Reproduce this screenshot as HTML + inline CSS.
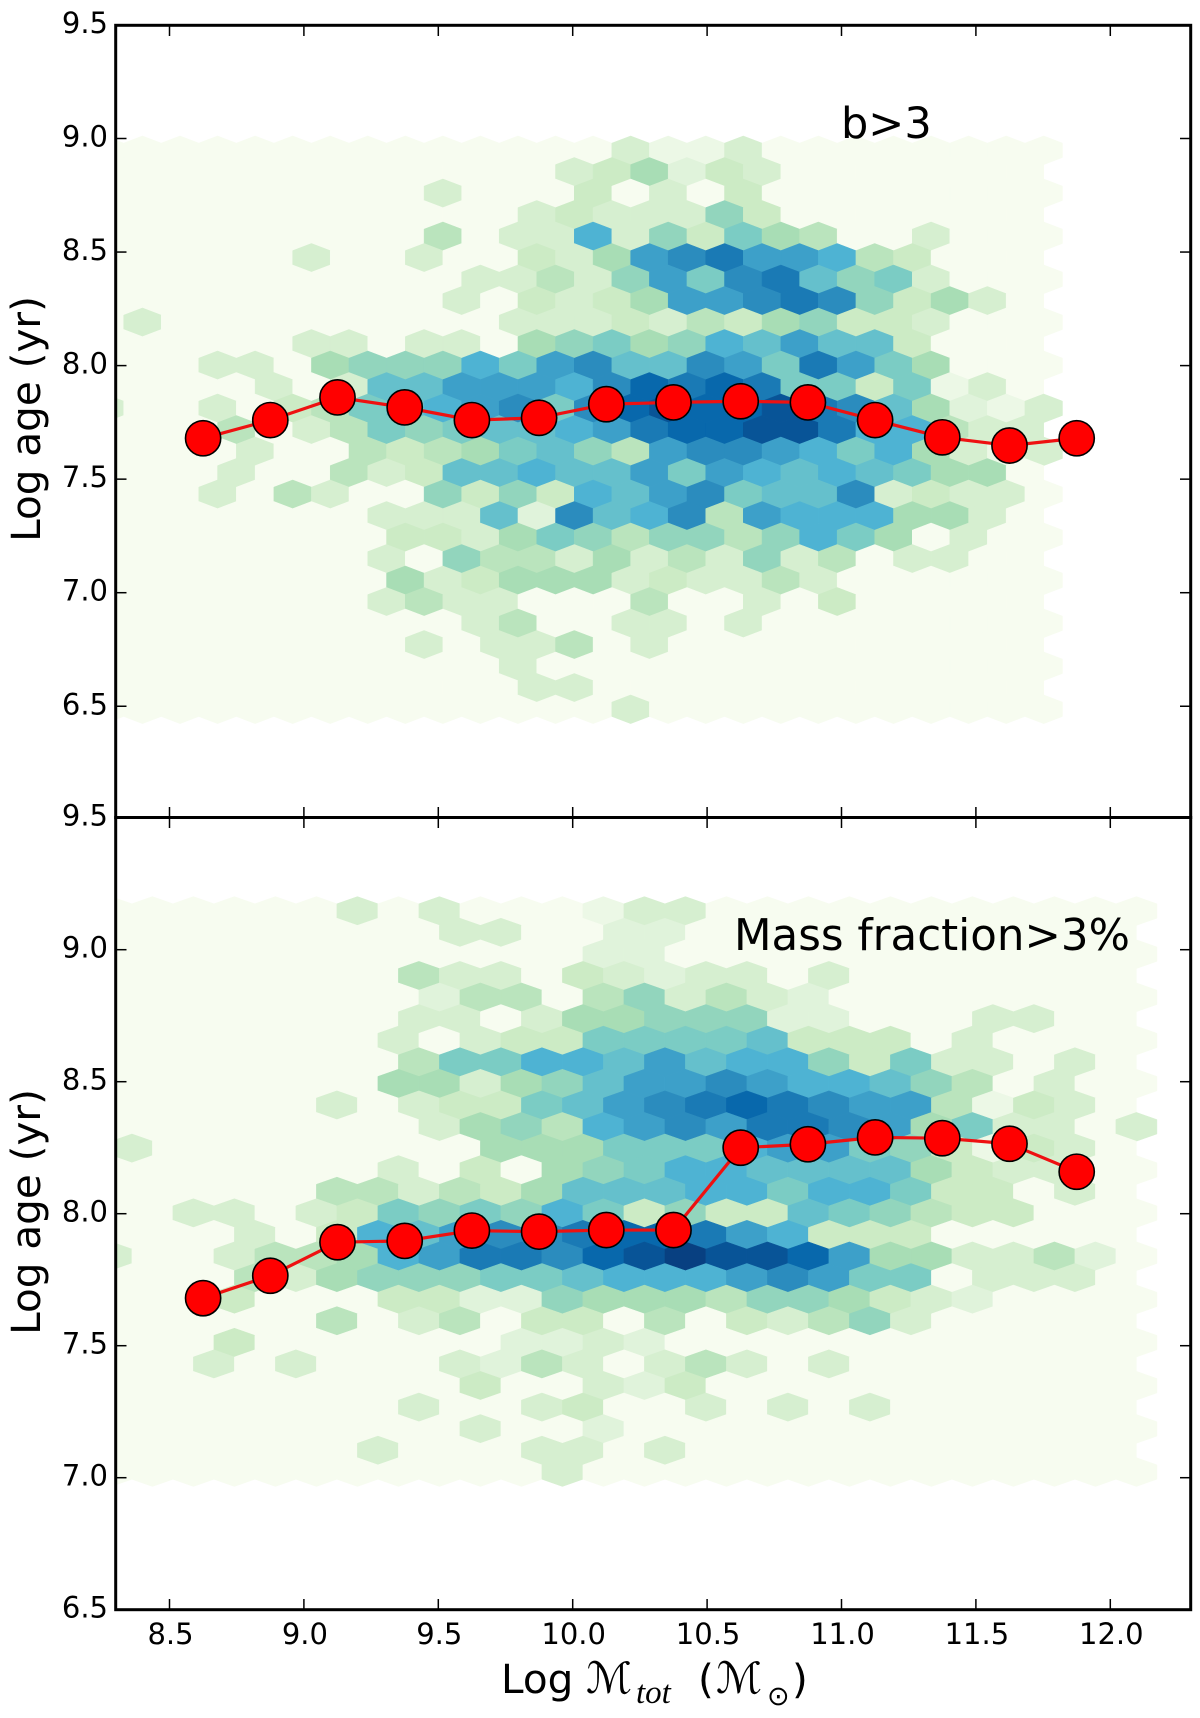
<!DOCTYPE html>
<html lang="en">
<head>
<meta charset="utf-8">
<title>Log age vs Log total mass hexbin panels</title>
<style>
html,body{margin:0;padding:0;background:#fff;}
svg{display:block;}
text{font-family:"DejaVu Sans","Liberation Sans",sans-serif;fill:#000;}
</style>
</head>
<body>
<svg id="chart" xmlns="http://www.w3.org/2000/svg" width="1200" height="1718" viewBox="0 0 1200 1718">
  <defs>
    <clipPath id="clip-top"><rect x="115.7" y="25.3" width="1075" height="792.2"/></clipPath>
    <clipPath id="clip-bottom"><rect x="115.7" y="817.5" width="1075" height="792.2"/></clipPath>
  </defs>
  <g id="top-hexes" clip-path="url(#clip-top)"></g>
  <g id="bottom-hexes" clip-path="url(#clip-bottom)"></g>
  <g id="top-series"></g>
  <g id="bottom-series"></g>
  <g id="ticks"></g>
  <g id="tick-labels"></g>
  <rect x="115.7" y="25.3" width="1075" height="792.2" fill="none" stroke="#000" stroke-width="3"/>
  <rect x="115.7" y="817.5" width="1075" height="792.2" fill="none" stroke="#000" stroke-width="3"/>
  <text transform="translate(40,419) rotate(-90)" text-anchor="middle" font-size="40.5">Log age (yr)</text>
  <text transform="translate(40,1212) rotate(-90)" text-anchor="middle" font-size="40.5">Log age (yr)</text>
  <text x="841" y="138" font-size="43">b&gt;3</text>
  <text x="734" y="950" font-size="43.5">Mass fraction&gt;3%</text>
  <g>
    <text x="501" y="1693" font-size="40.5">Log</text>
    <text x="586" y="1693" font-size="43" font-style="italic" font-family="'DejaVu Serif','Liberation Serif',serif">ℳ</text>
    <text x="636" y="1703" font-size="33" font-style="italic" style="font-family:'Liberation Serif',serif">tot</text>
    <text x="698" y="1693" font-size="40.5">(</text>
    <text x="716" y="1693" font-size="43" font-style="italic" font-family="'DejaVu Serif','Liberation Serif',serif">ℳ</text>
    <text x="767" y="1705" font-size="27">⊙</text>
    <text x="792" y="1693" font-size="40.5">)</text>
  </g>
</svg>
<script>
// Shared axis values
const xTicks = [8.5, 9.0, 9.5, 10.0, 10.5, 11.0, 11.5, 12.0];
const xTickLabels = ['8.5', '9.0', '9.5', '10.0', '10.5', '11.0', '11.5', '12.0'];
const topYTicks = [9.5, 9.0, 8.5, 8.0, 7.5, 7.0, 6.5];
const topYTickLabels = ['9.5', '9.0', '8.5', '8.0', '7.5', '7.0', '6.5'];
const bottomYTicks = [9.5, 9.0, 8.5, 8.0, 7.5, 7.0, 6.5];
const bottomYTickLabels = ['9.5', '9.0', '8.5', '8.0', '7.5', '7.0', '6.5'];

// Median series
const massBins = [8.625, 8.875, 9.125, 9.375, 9.625, 9.875, 10.125, 10.375, 10.625, 10.875, 11.125, 11.375, 11.625, 11.875];
const topMedianAge = [7.68, 7.76, 7.86, 7.816, 7.76, 7.77, 7.83, 7.838, 7.843, 7.838, 7.76, 7.684, 7.648, 7.68];
const bottomMedianAge = [7.68, 7.765, 7.892, 7.897, 7.936, 7.932, 7.938, 7.938, 8.25, 8.263, 8.289, 8.286, 8.265, 8.159];

// Hexbin counts, one array per lattice row (top of the panel first)
const topCounts = [
[0,0,0,0,0,0,0,0,0,0,0,0,0,0,3,1,1,3,0,0,0,0,0,0,0,0],
[0,0,0,0,0,0,0,0,0,0,0,0,3,4,6,2,4,3,0,0,0,0,0,0,0],
[0,0,0,0,0,0,0,0,0,3,0,0,0,4,0,3,0,4,0,0,0,0,0,0,0,0],
[0,0,0,0,0,0,0,0,0,0,0,3,4,3,3,3,7,4,0,0,0,0,0,0,0],
[0,0,0,0,0,0,0,0,0,5,0,3,3,10,3,7,4,8,6,5,0,0,3,0,0,0],
[0,0,0,0,0,3,0,0,3,0,0,4,3,6,11,12,13,11,11,10,5,4,0,0,0],
[0,0,0,0,0,0,0,0,0,0,3,3,5,3,7,11,8,12,13,9,7,8,3,0,0,0],
[0,0,0,0,0,0,0,0,0,3,0,4,3,4,6,11,11,12,13,12,7,4,6,3,0],
[0,3,0,0,0,0,0,0,0,0,0,3,3,3,4,3,5,4,6,7,4,4,3,0,0,0],
[0,0,0,0,0,3,3,0,3,3,0,6,7,8,6,7,10,9,11,9,9,4,0,0,0],
[0,0,0,3,3,0,6,7,7,7,10,8,11,12,9,9,12,11,8,13,11,8,6,0,0,0],
[0,0,0,0,3,0,3,9,9,11,11,11,10,12,14,13,14,13,8,8,4,8,1,3,0],
[3,0,0,3,0,4,5,8,9,10,11,12,8,12,14,15,14,14,15,13,12,9,6,2,1,3],
[0,0,0,5,0,3,5,8,7,8,9,9,10,11,13,14,14,15,15,13,10,10,5,3,3],
[0,0,0,0,3,0,0,5,4,5,6,8,9,7,5,11,12,12,11,10,8,10,6,3,1,3],
[0,0,0,3,0,0,5,3,4,9,9,10,9,9,11,8,11,10,9,10,9,8,6,6,0],
[0,0,0,3,0,5,3,0,0,7,4,7,4,10,9,11,12,8,9,9,12,3,4,3,3,0],
[0,0,0,0,0,0,0,3,3,3,9,2,12,9,10,12,5,11,10,10,10,6,6,3,0],
[0,0,0,0,0,0,0,0,4,4,3,6,8,7,5,7,7,5,7,10,8,6,0,3,0,0],
[0,0,0,0,0,0,0,3,0,7,5,5,3,6,3,5,3,7,3,5,0,3,3,0,0],
[0,0,0,0,0,0,0,0,6,3,4,6,6,6,3,4,3,3,5,3,0,0,0,0,0,0],
[0,0,0,0,0,0,0,3,5,3,3,0,0,0,5,0,0,3,0,4,0,0,0,0,0],
[0,0,0,0,0,0,0,0,0,0,3,5,0,0,3,3,0,3,0,0,0,0,0,0,0,0],
[0,0,0,0,0,0,0,0,3,0,3,3,5,0,3,0,0,0,0,0,0,0,0,0,0],
[0,0,0,0,0,0,0,0,0,0,0,3,0,0,0,0,0,0,0,0,0,0,0,0,0,0],
[0,0,0,0,0,0,0,0,0,0,0,3,3,0,0,0,0,0,0,0,0,0,0,0,0],
[0,0,0,0,0,0,0,0,0,0,0,0,0,0,3,0,0,0,0,0,0,0,0,0,0,0]
];
const bottomCounts = [
[0,0,0,0,0,0,3,0,3,0,0,0,1,3,3,0,0,0,0,0,0,0,0,0,0,0],
[0,0,0,0,0,0,0,0,3,3,0,0,2,2,0,0,0,0,0,0,0,0,0,0,0],
[0,0,0,0,0,0,0,0,0,0,0,0,2,2,0,0,0,0,0,0,0,0,0,0,0,0],
[0,0,0,0,0,0,0,5,3,3,0,4,3,2,3,3,0,3,0,0,0,0,0,0,0],
[0,0,0,0,0,0,0,0,2,5,5,0,5,7,3,5,3,2,0,0,0,0,0,0,0,0],
[0,0,0,0,0,0,0,3,3,0,3,6,6,7,7,7,2,2,0,0,0,3,3,0,0],
[0,0,0,0,0,0,0,3,0,3,4,4,8,8,8,8,9,4,4,4,0,3,0,0,0,0],
[0,0,0,0,0,0,0,5,8,8,10,10,9,11,9,10,10,7,4,8,3,3,0,3,0],
[0,0,0,0,0,0,0,6,6,3,6,7,9,11,11,12,11,10,10,9,7,5,0,3,0,0],
[0,0,0,0,0,3,0,3,4,4,8,9,11,12,13,14,13,12,11,11,5,1,4,3,0],
[0,0,0,0,0,0,0,0,3,6,7,5,10,11,12,11,13,13,12,11,6,8,3,3,0,3],
[3,0,0,0,0,0,0,0,0,6,6,6,8,8,8,10,11,11,8,7,4,1,4,3,0],
[0,0,0,0,0,0,0,3,0,4,0,6,7,8,10,10,9,9,9,9,6,4,3,3,0,0],
[0,0,0,0,0,5,5,3,5,4,6,9,9,9,10,10,8,10,10,8,4,4,0,3,0],
[0,0,3,3,0,3,4,8,7,8,7,10,8,4,7,4,4,9,8,7,5,4,4,0,0,0],
[0,0,0,3,0,4,10,9,11,12,12,13,14,14,13,11,10,4,4,4,0,0,0,0,0],
[3,0,0,3,5,5,6,10,11,13,13,12,14,15,16,15,15,14,11,6,6,3,3,5,2,0],
[0,0,0,5,3,6,7,7,7,8,8,9,10,10,10,11,12,11,8,8,0,3,3,3,0],
[0,0,0,4,0,0,0,4,4,2,2,7,6,6,6,5,7,7,6,4,3,2,0,0,0,0],
[0,0,0,0,0,5,0,3,5,0,4,4,0,5,0,4,3,5,7,3,0,0,0,0,0],
[0,0,0,4,0,0,0,0,0,0,2,2,3,2,0,0,0,0,0,0,0,0,0,0,0,0],
[0,0,3,0,3,0,0,0,3,2,5,3,0,3,5,3,0,3,0,0,0,0,0,0,0],
[0,0,0,0,0,0,0,0,0,4,0,0,3,2,4,0,0,0,0,0,0,0,0,0,0,0],
[0,0,0,0,0,0,0,3,0,0,3,4,0,0,3,0,3,0,3,0,0,0,0,0,0],
[0,0,0,0,0,0,0,0,0,3,0,0,2,0,0,0,0,0,0,0,0,0,0,0,0,0],
[0,0,0,0,0,0,3,0,0,0,3,3,0,3,0,0,0,0,0,0,0,0,0,0,0],
[0,0,0,0,0,0,0,0,0,0,0,3,0,0,0,0,0,0,0,0,0,0,0,0,0,0]
];

const SVG_NS = 'http://www.w3.org/2000/svg';
const gnbuStops = [[247,252,240],[224,243,219],[204,235,197],[168,221,181],[123,204,196],[78,179,211],[43,140,190],[8,104,172],[8,64,129]];

// Axis functions
function xPos(v) { return 169.5 + (v - 8.5) * 268.8; }
function yTop(v) { return 138.5 + (9 - v) * 227.1; }
function yBottom(v) { return 949.7 + (9 - v) * 264; }

function countColor(count) {
  const t = Math.max(0, Math.min(8, count / 2));
  const a = Math.floor(t);
  const b = Math.min(8, a + 1);
  const f = t - a;
  const c = [0, 1, 2].map(function (k) {
    return Math.round(gnbuStops[a][k] + (gnbuStops[b][k] - gnbuStops[a][k]) * f);
  });
  return 'rgb(' + c.join(',') + ')';
}

function drawHexes(groupId, counts, yFn, xStart, xStep, yStart, yStep) {
  const group = document.getElementById(groupId);
  const halfW = Math.abs(xPos(xStep) - xPos(0)) / 2;
  const rowPx = Math.abs(yFn(0) - yFn(yStep));
  const tip = rowPx * 2 / 3;
  const shoulder = rowPx / 3;
  counts.forEach(function (row, r) {
    const isOdd = r % 2 === 1;
    row.forEach(function (count, i) {
      const cx = xPos(xStart + (i + (isOdd ? 0.5 : 0)) * xStep);
      const cy = yFn(yStart - r * yStep);
      const pts = [
        [cx + halfW, cy - shoulder], [cx + halfW, cy + shoulder], [cx, cy + tip],
        [cx - halfW, cy + shoulder], [cx - halfW, cy - shoulder], [cx, cy - tip]
      ].map(function (p) { return p[0].toFixed(2) + ',' + p[1].toFixed(2); }).join(' ');
      const el = document.createElementNS(SVG_NS, 'polygon');
      el.setAttribute('points', pts);
      el.setAttribute('fill', countColor(count));
      el.setAttribute('stroke', countColor(count));
      el.setAttribute('stroke-width', '0.5');
      
      
      group.appendChild(el);
    });
  });
}

function drawSeries(groupId, xs, ys, yFn) {
  const group = document.getElementById(groupId);
  const line = document.createElementNS(SVG_NS, 'polyline');
  line.setAttribute('points', xs.map(function (x, i) { return xPos(x).toFixed(2) + ',' + yFn(ys[i]).toFixed(2); }).join(' '));
  line.setAttribute('fill', 'none');
  line.setAttribute('stroke', '#ee1111');
  line.setAttribute('stroke-width', '3.2');
  
  
  group.appendChild(line);
  xs.forEach(function (x, i) {
    const dot = document.createElementNS(SVG_NS, 'circle');
    dot.setAttribute('cx', xPos(x).toFixed(2));
    dot.setAttribute('cy', yFn(ys[i]).toFixed(2));
    dot.setAttribute('r', '17.6');
    dot.setAttribute('fill', '#ff0000');
    dot.setAttribute('stroke', '#000');
    dot.setAttribute('stroke-width', '1.6');
    
    
    group.appendChild(dot);
  });
}

function tickLine(x1, y1, x2, y2) {
  const el = document.createElementNS(SVG_NS, 'line');
  el.setAttribute('x1', x1);
  el.setAttribute('y1', y1);
  el.setAttribute('x2', x2);
  el.setAttribute('y2', y2);
  el.setAttribute('stroke', '#000');
  el.setAttribute('stroke-width', '1.5');
  
  
  document.getElementById('ticks').appendChild(el);
}

function tickLabel(x, y, anchor, str, name) {
  const el = document.createElementNS(SVG_NS, 'text');
  el.setAttribute('x', x);
  el.setAttribute('y', y);
  el.setAttribute('text-anchor', anchor);
  el.setAttribute('font-size', '29');
  
  
  el.textContent = str;
  document.getElementById('tick-labels').appendChild(el);
}

drawHexes('top-hexes', topCounts, yTop, 8.2597, 0.13970, 8.948, 0.09467);
drawHexes('bottom-hexes', bottomCounts, yBottom, 8.2839, 0.15253, 9.1466, 0.08174);
drawSeries('top-series', massBins, topMedianAge, yTop);
drawSeries('bottom-series', massBins, bottomMedianAge, yBottom);

xTicks.forEach(function (v, i) {
  const x = xPos(v);
  tickLine(x, 25.3, x, 36);
  tickLine(x, 807, x, 828);
  tickLine(x, 1599, x, 1609.7);
  tickLabel(x + 1, 1644, 'middle', xTickLabels[i], 'x-tick-label');
});
topYTicks.forEach(function (v, i) {
  const y = yTop(v);
  if (i > 0) {
    tickLine(115.7, y, 126.5, y);
    tickLine(1180, y, 1190.7, y);
  }
  tickLabel(108, y + 8, 'end', topYTickLabels[i], 'top-y-tick-label');
});
bottomYTicks.forEach(function (v, i) {
  const y = yBottom(v);
  if (i > 0 && i < bottomYTicks.length - 1) {
    tickLine(115.7, y, 126.5, y);
    tickLine(1180, y, 1190.7, y);
  }
  tickLabel(108, y + 8, 'end', bottomYTickLabels[i], 'bottom-y-tick-label');
});
</script>
</body>
</html>
